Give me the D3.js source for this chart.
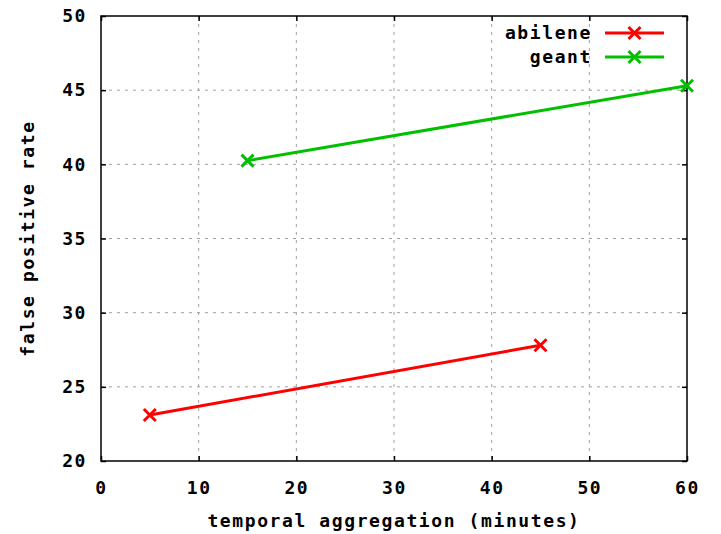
<!DOCTYPE html>
<html>
<head>
<meta charset="utf-8">
<script src="https://cdn.jsdelivr.net/npm/d3@7"></script>
<style>
  body { margin: 0; background: #fff; }
  text { font-family: "DejaVu Sans Mono", monospace; font-weight: bold; fill: #000; letter-spacing: 1.6px; }
</style>
</head>
<body>
<div id="chart"></div>
<script>
// Data
const xTicks = [0, 10, 20, 30, 40, 50, 60];
const yTicks = [20, 25, 30, 35, 40, 45, 50];
const abileneX = [5, 45];
const abileneY = [23.1, 27.8];
const geantX = [15, 60];
const geantY = [40.25, 45.3];
const seriesNames = ["abilene", "geant"];
const seriesColors = ["#ff0000", "#00c000"];

const W = 721, H = 534;
const margin = { top: 16, right: 34, bottom: 73, left: 101 };
const width = W - margin.left - margin.right;
const height = H - margin.top - margin.bottom;
const fs = "18px";

const svg = d3.select("#chart").append("svg")
    .attr("width", W).attr("height", H);
const g = svg.append("g")
    .attr("transform", `translate(${margin.left},${margin.top})`);

const x = d3.scaleLinear().domain([0, 60]).range([0, width]);
const y = d3.scaleLinear().domain([20, 50]).range([height, 0]);

// Grid
g.selectAll(".vgrid").data(xTicks.slice(1, -1)).enter().append("line")
    .attr("x1", d => x(d)).attr("x2", d => x(d))
    .attr("y1", 0).attr("y2", height)
    .attr("stroke", "#a0a0a0").attr("stroke-dasharray", "3,5");
g.selectAll(".hgrid").data(yTicks.slice(1, -1)).enter().append("line")
    .attr("x1", 0).attr("x2", width)
    .attr("y1", d => y(d)).attr("y2", d => y(d))
    .attr("stroke", "#a0a0a0").attr("stroke-dasharray", "3,5");

// Axes (gnuplot style, ticks inward, mirrored)
g.append("g").attr("transform", `translate(0,${height})`)
    .call(d3.axisBottom(x).tickValues(xTicks).tickSizeInner(-5).tickSizeOuter(0).tickPadding(20))
    .call(a => a.select(".domain").remove());
g.append("g")
    .call(d3.axisLeft(y).tickValues(yTicks).tickSizeInner(-5).tickSizeOuter(0).tickPadding(14))
    .call(a => a.select(".domain").remove());
g.append("g")
    .call(d3.axisTop(x).tickValues(xTicks).tickSizeInner(-5).tickSizeOuter(0).tickFormat(""))
    .call(a => a.select(".domain").remove());
g.append("g").attr("transform", `translate(${width},0)`)
    .call(d3.axisRight(y).tickValues(yTicks).tickSizeInner(-5).tickSizeOuter(0).tickFormat(""))
    .call(a => a.select(".domain").remove());
g.selectAll(".tick line").attr("stroke", "#000").attr("stroke-width", 1.5);
g.selectAll(".tick text").style("font-size", fs).attr("font-family", null);

g.append("rect").attr("width", width).attr("height", height)
    .attr("fill", "none").attr("stroke", "#000").attr("stroke-width", 1.5);

// Series
const series = [
  { xs: abileneX, ys: abileneY },
  { xs: geantX, ys: geantY }
];
const line = d3.line().x(d => x(d[0])).y(d => y(d[1]));

function cross(sel, cx, cy, color) {
  const s = 6;
  sel.append("path")
    .attr("d", `M${cx - s},${cy - s}L${cx + s},${cy + s}M${cx - s},${cy + s}L${cx + s},${cy - s}`)
    .attr("stroke", color).attr("stroke-width", 3).attr("fill", "none");
}

series.forEach((s, i) => {
  const pts = s.xs.map((v, j) => [v, s.ys[j]]);
  g.append("path").datum(pts)
    .attr("d", line)
    .attr("fill", "none")
    .attr("stroke", seriesColors[i])
    .attr("stroke-width", 3);
  pts.forEach(p => cross(g, x(p[0]), y(p[1]), seriesColors[i]));

  // legend
  const ly = 17 + i * 24;
  g.append("text").attr("x", 491).attr("y", ly).attr("dy", "0.35em")
    .attr("text-anchor", "end").style("font-size", fs).text(seriesNames[i]);
  g.append("line").attr("x1", 504).attr("x2", 563).attr("y1", ly).attr("y2", ly)
    .attr("stroke", seriesColors[i]).attr("stroke-width", 3);
  cross(g, 533.5, ly, seriesColors[i]);
});

// Axis titles
svg.append("text")
    .attr("x", margin.left + width / 2).attr("y", 527)
    .attr("text-anchor", "middle").style("font-size", fs)
    .text("temporal aggregation (minutes)");
svg.append("text")
    .attr("transform", `translate(34,${margin.top + height / 2}) rotate(-90)`)
    .attr("text-anchor", "middle").style("font-size", fs)
    .text("false positive rate");
</script>
</body>
</html>
